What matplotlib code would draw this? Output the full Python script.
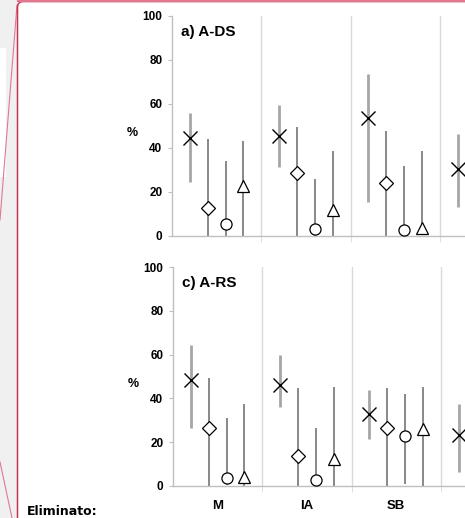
import numpy as np
import matplotlib.pyplot as plt
from matplotlib.lines import Line2D
from matplotlib.patches import Rectangle, FancyBboxPatch

W, H = 465, 518

categories = ['M', 'IA', 'SB', '']
series = ['cross', 'diamond', 'circle', 'triangle']

# panel a) A-DS: mean, upper and lower bound per series, one value per category
ads_mean = {
    'cross':    [44.5, 45.5, 53.6, 30.3],
    'diamond':  [12.7, 28.8, 24.2, np.nan],
    'circle':   [5.5, 3.0, 2.7, np.nan],
    'triangle': [22.8, 11.8, 3.5, np.nan],
}
ads_hi = {
    'cross':    [56.0, 59.5, 73.6, 46.4],
    'diamond':  [44.0, 49.5, 47.8, np.nan],
    'circle':   [34.0, 26.0, 31.9, np.nan],
    'triangle': [43.0, 38.6, 38.6, np.nan],
}
ads_lo = {
    'cross':    [24.5, 31.5, 15.3, 13.3],
    'diamond':  [0.0, 0.0, 0.0, np.nan],
    'circle':   [0.0, 0.0, 0.0, np.nan],
    'triangle': [0.0, 0.0, 0.5, np.nan],
}

# panel c) A-RS
ars_mean = {
    'cross':    [48.4, 46.1, 32.7, 23.3],
    'diamond':  [26.6, 13.7, 26.3, np.nan],
    'circle':   [3.8, 2.7, 23.0, np.nan],
    'triangle': [4.2, 12.3, 26.0, np.nan],
}
ars_hi = {
    'cross':    [64.4, 59.8, 43.7, 37.3],
    'diamond':  [49.5, 44.6, 44.6, np.nan],
    'circle':   [31.2, 26.6, 41.9, np.nan],
    'triangle': [37.3, 45.0, 45.0, np.nan],
}
ars_lo = {
    'cross':    [26.6, 36.2, 21.6, 6.3],
    'diamond':  [0.0, 0.0, 0.0, np.nan],
    'circle':   [0.5, 0.0, 0.8, np.nan],
    'triangle': [0.0, 0.0, 0.0, np.nan],
}

styles = {
    'cross':    dict(marker='x', ms=10, mew=1.0, bar='#a6a6a6', blw=2.0),
    'diamond':  dict(marker='D', ms=7, mew=0.9, bar='#7f7f7f', blw=1.3),
    'circle':   dict(marker='o', ms=8, mew=0.9, bar='#7f7f7f', blw=1.3),
    'triangle': dict(marker='^', ms=9, mew=0.9, bar='#7f7f7f', blw=1.3),
}
offsets = [0.2, 0.4, 0.6, 0.8]

plt.rcParams['font.family'] = ['Liberation Sans', 'DejaVu Sans']

fig = plt.figure(figsize=(W / 100, H / 100), dpi=100)


def px_axes(left, top, right, bottom):
    return fig.add_axes([left / W, 1 - bottom / H, (right - left) / W, (bottom - top) / H])


def draw_panel(ax, mean, hi, lo, title, xlabels):
    cat_w = 89.3
    xmax = (W - ax.get_position().x0 * W) / cat_w
    for k, s in enumerate(series):
        st = styles[s]
        x = np.arange(len(categories)) + offsets[k]
        m = np.array(mean[s])
        ax.vlines(x, np.array(lo[s]), np.array(hi[s]), colors=st['bar'], lw=st['blw'], zorder=2)
        ax.plot(x, m, ls='none', marker=st['marker'], ms=st['ms'], mew=st['mew'],
                mfc='white', mec='black', color='black', zorder=3, clip_on=False)
    for b in range(1, len(categories)):
        ax.axvline(b, color='#d9d9d9', lw=1, zorder=1)
    for side in ['top', 'right']:
        ax.spines[side].set_visible(False)
    for side in ['left', 'bottom']:
        ax.spines[side].set_color('#bfbfbf')
        ax.spines[side].set_linewidth(1)
    ax.set_yticks(np.arange(0, 101, 20))
    ax.tick_params(axis='y', length=3, color='#bfbfbf', labelsize=8.5, pad=4)
    for lab in ax.get_yticklabels():
        lab.set_fontweight('bold')
    ax.set_xticks(np.arange(1, len(categories)), minor=True)
    ax.tick_params(axis='x', which='minor', length=4, color='#d9d9d9')
    if xlabels:
        ax.set_xticks(np.arange(len(categories)) + 0.5)
        ax.set_xticklabels(categories, fontsize=9.5, fontweight='bold')
        ax.tick_params(axis='x', which='major', length=0, pad=10)
    else:
        ax.set_xticks([])
    ax.set_xlim(0, xmax)
    ax.set_ylim(0, 100)
    ax.set_ylabel('%', rotation=0, fontsize=9, fontweight='bold')
    ax.yaxis.set_label_coords(-0.135, 0.44)
    ax.text(0.03, 0.96, title, transform=ax.transAxes, fontsize=11, fontweight='bold',
            va='top', ha='left')


ax1 = px_axes(172, 16, W, 236)
draw_panel(ax1, ads_mean, ads_hi, ads_lo, 'a) A-DS', False)
ax2 = px_axes(173, 267, W, 486)
draw_panel(ax2, ars_mean, ars_hi, ars_lo, 'c) A-RS', True)


# margin area on the left with the revision balloon lines
def fx(x):
    return x / W


def fy(y):
    return 1 - y / H


fig.patches.append(Rectangle((0, 0), fx(17), 1, transform=fig.transFigure,
                             facecolor='#f0f0f0', edgecolor='none', zorder=0))
fig.patches.append(Rectangle((0, fy(177)), fx(6), (177 - 48) / H, transform=fig.transFigure,
                             facecolor='white', edgecolor='none', zorder=0))
fig.patches.append(FancyBboxPatch((fx(17.5), fy(600)), fx(600), (600 - 1.5) / H,
                                  boxstyle='round,pad=0,rounding_size=0.012',
                                  transform=fig.transFigure, facecolor='none',
                                  edgecolor='#c8334f', lw=1.1, zorder=5))
fig.lines.append(Line2D([fx(18), fx(465)], [fy(1.2), fy(1.2)], transform=fig.transFigure,
                        color='#e07890', lw=1.6, zorder=6))
fig.lines.append(Line2D([fx(17), fx(0)], [fy(5), fy(220)], transform=fig.transFigure,
                        color='#e07890', lw=0.8, zorder=5))
fig.lines.append(Line2D([fx(0), fx(12)], [fy(462), fy(518)], transform=fig.transFigure,
                        color='#e07890', lw=0.8, zorder=5))
fig.text(fx(27), fy(505), 'Eliminato:', fontsize=9, fontweight='bold',
         family='DejaVu Sans', va='top', ha='left')

fig.savefig('out.png', dpi=100)
